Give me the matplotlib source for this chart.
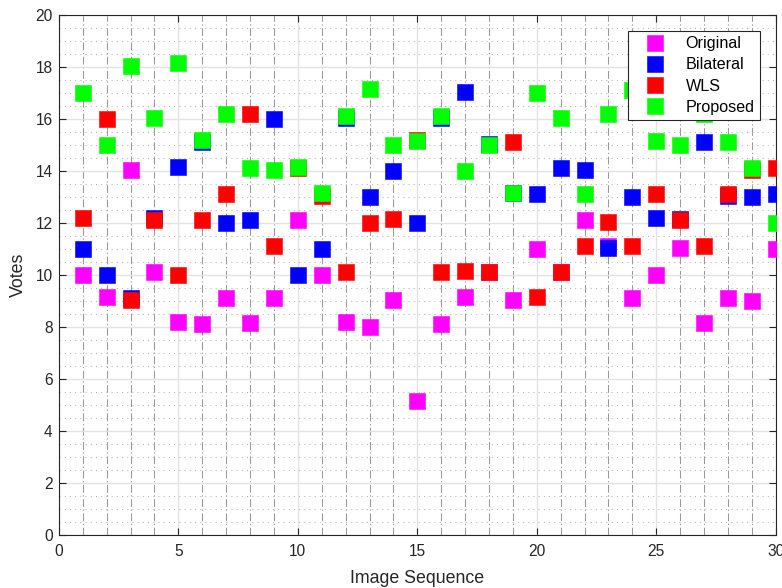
import numpy as np
import matplotlib
matplotlib.use("Agg")
import matplotlib.pyplot as plt
from matplotlib.ticker import MultipleLocator

plt.rcParams['font.family'] = ['Liberation Sans', 'DejaVu Sans']

image_seq = np.arange(1, 31)
original = [10.0, 9.15, 14.05, 10.1, 8.2, 8.1, 9.1, 8.15, 9.1, 12.1,
            10.0, 8.2, 8.0, 9.05, 5.15, 8.1, 9.15, 10.1, 9.05, 11.0,
            10.1, 12.1, 11.1, 9.1, 10.0, 11.05, 8.15, 9.1, 9.0, 11.0]
bilateral = [11.0, 10.0, 9.1, 12.2, 14.15, 15.12, 12.0, 12.1, 16.0, 10.0,
             11.0, 16.03, 13.0, 14.0, 12.0, 16.05, 17.05, 15.05, 13.15, 13.1,
             14.1, 14.05, 11.05, 13.0, 12.2, 12.15, 15.1, 13.05, 13.0, 13.1]
wls = [12.2, 16.0, 9.05, 12.1, 10.0, 12.1, 13.1, 16.2, 11.1, 14.1,
       13.03, 10.1, 12.0, 12.15, 15.2, 10.1, 10.15, 10.1, 15.1, 9.15,
       10.1, 11.1, 12.05, 11.1, 13.1, 12.1, 11.1, 13.12, 14.05, 14.1]
proposed = [17.0, 15.0, 18.05, 16.05, 18.15, 15.19, 16.2, 14.1, 14.05, 14.15,
            13.15, 16.13, 17.15, 15.0, 15.15, 16.1, 14.0, 15.0, 13.15, 17.0,
            16.05, 13.1, 16.2, 17.1, 15.15, 15.0, 16.2, 15.1, 14.1, 12.0]

labels = ["Original", "Bilateral", "WLS", "Proposed"]
colors = ["#ff00ff", "#0000ff", "#ff0000", "#00ff00"]

fig = plt.figure(figsize=(7.82, 5.88), dpi=100)
ax = fig.add_axes([58.8 / 782, 1 - 535 / 588, 717 / 782, 520 / 588])

for vals, lab, c in zip([original, bilateral, wls, proposed], labels, colors):
    ax.plot(image_seq, vals, linestyle="none", marker="s", markersize=11.2,
            color=c, markeredgecolor=c, markeredgewidth=0.4, label=lab, zorder=3)

ax.set_xlim(0, 30)
ax.set_ylim(0, 20)
ax.xaxis.set_major_locator(MultipleLocator(5))
ax.yaxis.set_major_locator(MultipleLocator(2))
ax.xaxis.set_minor_locator(MultipleLocator(1))
ax.yaxis.set_minor_locator(MultipleLocator(0.5))

# grid: light solid majors, dash-dot vertical minors, dotted horizontal minors
ax.set_axisbelow(True)
ax.grid(which="major", color="#e3e3e3", linewidth=1.0, linestyle="-")
ax.xaxis.grid(True, which="minor", color="#999999", linewidth=0.75,
              linestyle=(0, (7.5, 2.5, 1.2, 2.5)))
ax.yaxis.grid(True, which="minor", color="#b5b5b5", linewidth=0.75,
              linestyle=(0, (1, 4)))

ax.tick_params(which="major", direction="in", length=5, width=0.8,
               top=True, right=True, labelsize=11.2, colors="#262626")
ax.tick_params(axis="x", which="major", pad=6.5)
ax.tick_params(axis="y", which="major", pad=4.5)
ax.tick_params(which="minor", length=0)
for s in ax.spines.values():
    s.set_color("#262626")
    s.set_linewidth(0.8)

ax.set_xlabel("Image Sequence", fontsize=12.8, color="#262626", labelpad=8)
ax.set_ylabel("Votes", fontsize=12.8, color="#262626", labelpad=6)

leg = ax.legend(loc="upper right", fontsize=11.6, fancybox=False, framealpha=1,
                edgecolor="#262626", borderaxespad=1.0, handlelength=2.7,
                handletextpad=0.55, labelspacing=0.38, borderpad=0.32,
                numpoints=1)
leg.get_frame().set_linewidth(0.8)

fig.savefig("out.png", dpi=100)
